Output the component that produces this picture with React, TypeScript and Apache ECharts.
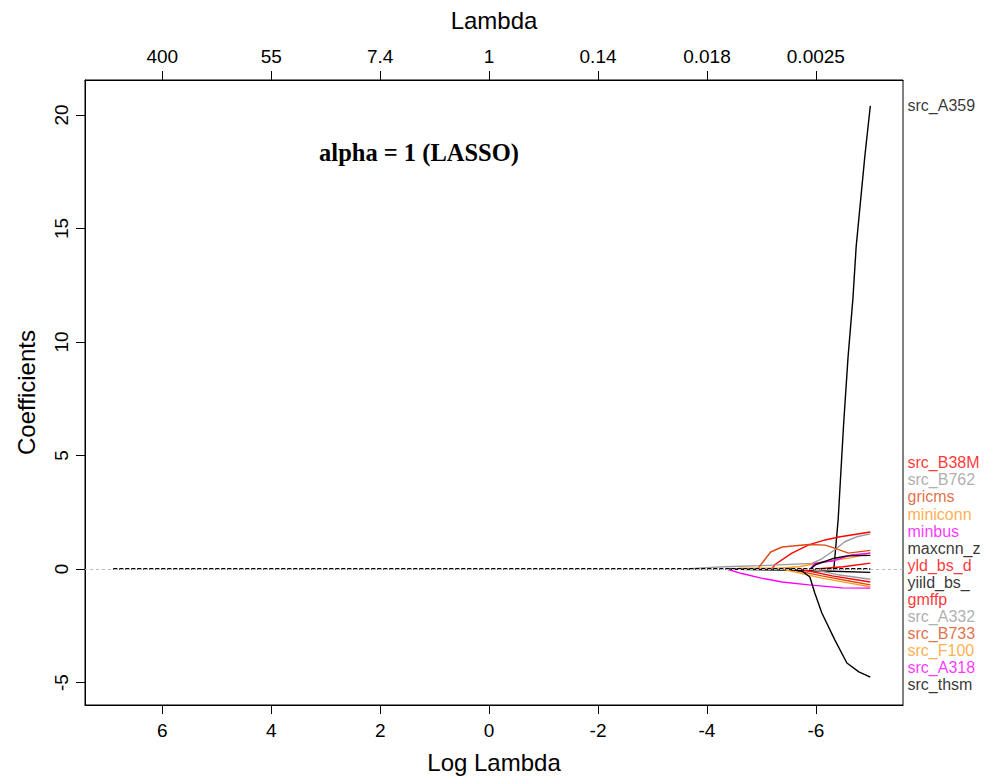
import React, { useEffect, useRef } from "react";
import * as echarts from "echarts";

// Log(lambda) ticks and the matching lambda labels on the top axis
const logLambdaTicks = [6, 4, 2, 0, -2, -4, -6];
const lambdaLabels = ["400", "55", "7.4", "1", "0.14", "0.018", "0.0025"];
const coefTicks = [-5, 0, 5, 10, 15, 20];

// Coefficient paths: [log(lambda), coefficient], from the point where each variable enters
const src_A359 = [[-6.33, 0], [-6.41, 2.2], [-6.51, 6.4], [-6.59, 9.3], [-6.68, 11.9], [-6.74, 14.2], [-6.9, 18.2], [-7.0, 20.4]];
const src_B38M = [[-5.19, 0], [-5.25, 0.2], [-5.56, 0.7], [-5.87, 1.06], [-6.17, 1.28], [-6.42, 1.41], [-7.0, 1.63]];
const src_B762 = [[-3.62, 0], [-3.9, 0.05], [-4.33, 0.1], [-5.0, 0.15], [-5.93, 0.25], [-6.11, 0.45], [-6.35, 0.85], [-6.53, 1.2], [-6.75, 1.42], [-7.0, 1.55]];
const gricms = [[-4.93, 0], [-5.17, 0.75], [-5.38, 0.97], [-5.87, 1.08], [-6.17, 1.05], [-6.3, 0.95], [-6.6, 0.7], [-7.0, 0.82]];
const miniconn = [[-4.55, 0], [-4.6, 0.04], [-5.3, 0.04], [-5.69, 0.1], [-6.11, 0.3], [-6.66, 0.5], [-7.0, 0.72]];
const minbus = [[-5.9, 0], [-5.98, 0.25], [-6.3, 0.35], [-6.66, 0.62], [-7.0, 0.7]];
const maxcnn_z = [[-5.9, 0], [-6.0, 0.2], [-6.3, 0.45], [-6.57, 0.58], [-7.0, 0.6]];
const yld_bs_d = [[-6.0, 0], [-6.5, 0.1], [-7.0, 0.26]];
const yiild_bs_ = [[-4.36, 0], [-5.38, -0.05], [-6.3, -0.1], [-7.0, -0.15]];
const gmffp = [[-5.7, 0], [-6.3, -0.3], [-7.0, -0.57]];
const src_A332 = [[-5.9, 0], [-6.4, -0.25], [-7.0, -0.45]];
const src_B733 = [[-5.5, 0], [-6.11, -0.3], [-6.66, -0.55], [-7.0, -0.7]];
const src_F100 = [[-5.38, 0], [-5.65, -0.15], [-6.11, -0.4], [-6.57, -0.6], [-7.0, -0.78]];
const src_A318 = [[-4.36, 0], [-4.64, -0.2], [-5.0, -0.4], [-5.38, -0.57], [-5.87, -0.7], [-6.48, -0.83], [-7.0, -0.84]];
const src_thsm = [[-5.5, 0], [-5.75, -0.1], [-5.89, -0.35], [-5.98, -1.06], [-6.11, -1.94], [-6.35, -3.13], [-6.57, -4.14], [-6.79, -4.53], [-7.0, -4.76]];
// all coefficients are zero over the whole path before they enter
const zeroCoefs = [[6.9, 0], [-7.0, 0]];

const varNames = ["src_A359", "src_B38M", "src_B762", "gricms", "miniconn", "minbus", "maxcnn_z", "yld_bs_d", "yiild_bs_", "gmffp", "src_A332", "src_B733", "src_F100", "src_A318", "src_thsm"];
const varPaths = [src_A359, src_B38M, src_B762, gricms, miniconn, minbus, maxcnn_z, yld_bs_d, yiild_bs_, gmffp, src_A332, src_B733, src_F100, src_A318, src_thsm];

const BLACK = "#000000";
const RED = "#FF0000";
const GRAY = "#9A9A9A";
const ORANGERED = "#DC4A16";
const ORANGE = "#FF9A22";
const MAGENTA = "#FF00FF";
const varColors = [BLACK, RED, GRAY, ORANGERED, ORANGE, MAGENTA, BLACK, RED, BLACK, RED, GRAY, ORANGERED, ORANGE, MAGENTA, BLACK];

// Right-margin label positions (in coefficient units)
const firstLabelY = 20.4;
const spreadTop = 4.67;
const spreadStep = 0.749;

const X_MIN = -7.6;
const X_MAX = 7.42;
const SANS = "'Liberation Sans', Arial, sans-serif";

export default function App() {
  const ref = useRef<HTMLDivElement>(null);
  useEffect(() => {
    if (!ref.current) return;
    const chart = echarts.init(ref.current, null, { renderer: "svg" });

    const labelData = varNames.map((n, i) => ({
      name: n,
      value: [X_MIN, i === 0 ? firstLabelY : spreadTop - (i - 1) * spreadStep],
      label: { color: varColors[i] },
    }));

    const lineSeries = varNames.map((n, i) => ({
      type: "line",
      name: n,
      data: varPaths[i],
      showSymbol: false,
      symbol: "none",
      lineStyle: { color: varColors[i], width: 1.4 },
      z: 3,
      silent: true,
    }));

    const axisCommonX = {
      type: "value",
      inverse: true,
      min: X_MIN,
      max: X_MAX,
      splitLine: { show: false },
      axisLine: { show: true, onZero: false, lineStyle: { color: "#000", width: 1 } },
      axisTick: { show: true, customValues: logLambdaTicks, length: 9, lineStyle: { color: "#000" } },
      nameLocation: "middle",
      nameTextStyle: { fontFamily: SANS, fontSize: 24, color: "#000" },
    };

    chart.setOption({
      animation: false,
      backgroundColor: "#fff",
      grid: {
        left: 85,
        right: 85,
        top: 80,
        bottom: 73,
        show: true,
        borderColor: "#000",
        borderWidth: 1,
        containLabel: false,
        outerBoundsMode: "none",
      },
      graphic: [
        {
          type: "text",
          x: 419,
          y: 152,
          style: {
            text: "alpha = 1 (LASSO)",
            align: "center",
            verticalAlign: "middle",
            font: "bold 24.5px 'Liberation Serif', 'Times New Roman', serif",
            fill: "#000",
          },
        },
      ],
      xAxis: [
        {
          ...axisCommonX,
          position: "bottom",
          name: "Log Lambda",
          nameGap: 45,
          axisLabel: { customValues: logLambdaTicks, margin: 16, fontFamily: SANS, fontSize: 19, color: "#000" },
        },
        {
          ...axisCommonX,
          position: "top",
          name: "Lambda",
          nameGap: 48,
          axisLabel: {
            customValues: logLambdaTicks,
            margin: 14,
            fontFamily: SANS,
            fontSize: 19,
            color: "#000",
            formatter: (v: number) => {
              const idx = logLambdaTicks.findIndex((t) => Math.abs(t - v) < 1e-9);
              return idx >= 0 ? lambdaLabels[idx] : "";
            },
          },
        },
      ],
      yAxis: {
        type: "value",
        min: -5.99,
        max: 21.54,
        name: "Coefficients",
        nameLocation: "middle",
        nameRotate: 90,
        nameGap: 47,
        nameTextStyle: { fontFamily: SANS, fontSize: 24, color: "#000" },
        splitLine: { show: false },
        axisLine: { show: true, onZero: false, lineStyle: { color: "#000", width: 1 } },
        axisTick: { show: true, customValues: coefTicks, length: 9, lineStyle: { color: "#000" } },
        axisLabel: { customValues: coefTicks, rotate: 90, margin: 14, fontFamily: SANS, fontSize: 19, color: "#000" },
      },
      series: [
        {
          type: "line",
          name: "zero",
          data: [],
          markLine: {
            silent: true,
            symbol: "none",
            label: { show: false },
            lineStyle: { color: "#BBBBBB", type: [3, 3], width: 1 },
            data: [{ yAxis: 0 }],
          },
          z: 1,
        },
        ...lineSeries,
        {
          type: "line",
          name: "zero coefficients",
          data: zeroCoefs,
          showSymbol: false,
          symbol: "none",
          lineStyle: { color: "#000", width: 2, type: [4, 2] },
          z: 4,
          silent: true,
        },
        {
          type: "scatter",
          name: "labels",
          data: labelData,
          symbolSize: 1,
          itemStyle: { color: "rgba(0,0,0,0)" },
          clip: false,
          silent: true,
          label: {
            show: true,
            position: "right",
            distance: 4,
            fontFamily: SANS,
            fontSize: 16,
            formatter: (p: any) => p.name,
          },
        },
      ],
    });
    return () => chart.dispose();
  }, []);
  return (
    <div
      ref={ref}
      style={{ position: "absolute", left: 0, top: 0, width: 988, height: 778 }}
    />
  );
}
